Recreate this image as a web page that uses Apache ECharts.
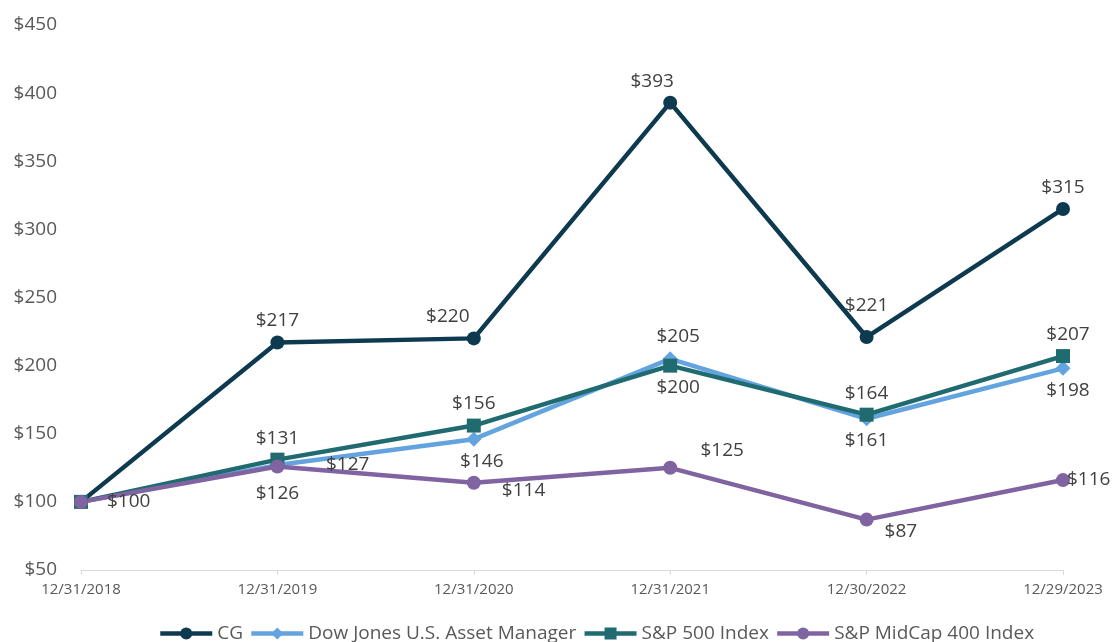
<!DOCTYPE html>
<html>
<head>
<meta charset="utf-8">
<script src="https://cdn.jsdelivr.net/npm/echarts@6/dist/echarts.min.js"></script>
<style>
  html, body { margin: 0; padding: 0; background: #fff; }
  #main { width: 1112px; height: 642px; }
</style>
</head>
<body>
<div id="main"></div>
<script>
// 数据
const categories = ['12/31/2018', '12/31/2019', '12/31/2020', '12/31/2021', '12/30/2022', '12/29/2023'];
const seriesNames = ['CG', 'Dow Jones U.S. Asset Manager', 'S&P 500 Index', 'S&P MidCap 400 Index'];
const cgValues = [100, 217, 220, 393, 221, 315];
const dowValues = [100, 127, 146, 205, 161, 198];
const spValues = [100, 131, 156, 200, 164, 207];
const midValues = [100, 126, 114, 125, 87, 116];

// 标签位置（null = 不显示）
const cgLabels = [null, ['top', 0, 0], ['top', -26, 0], ['top', -18, 0], ['top', 0, -10], ['top', 0, 0]];
const dowLabels = [null, ['right', 36, 0], ['bottom', 8, 0], ['top', 8, 0], ['bottom', 0, 0], ['bottom', 5, 0]];
const spLabels = [null, ['top', 0, 0], ['top', 0, 0], ['bottom', 8, 0], ['top', 0, 0], ['top', 5, 0]];
const midLabels = [['right', 14, 0], ['bottom', 0, 6], ['right', 16, 8], ['top', 52, 4], ['right', 6, 12], ['right', -8, 0]];

var myChart = echarts.init(document.getElementById('main'));

function buildData(values, labels) {
  return values.map((v, i) => {
    const l = labels[i];
    if (!l) return { value: v, label: { show: false } };
    return { value: v, label: { show: true, position: l[0], offset: [l[1], l[2]] } };
  });
}

function makeSeries(name, values, labels, color, symbol) {
  return {
    name: name,
    type: 'line',
    data: buildData(values, labels),
    symbol: symbol,
    symbolSize: symbol === 'diamond' ? 15 : 14,
    lineStyle: { width: 4.5, color: color },
    itemStyle: { color: color },
    label: {
      formatter: p => '$' + p.value,
      color: '#404040',
      fontSize: 19,
      fontFamily: 'Open Sans'
    },
    emphasis: { disabled: true }
  };
}

myChart.setOption({
  animation: false,
  grid: { left: 81, right: 49, top: 25, bottom: 72 },
  legend: {
    data: seriesNames,
    left: 153,
    top: 619,
    itemWidth: 52,
    itemHeight: 15,
    itemGap: 6,
    lineStyle: { width: 4.5 },
    textStyle: { color: '#595959', fontSize: 19, fontFamily: 'Open Sans' }
  },
  xAxis: {
    type: 'category',
    data: categories,
    boundaryGap: false,
    axisLine: { lineStyle: { color: '#d9d9d9', width: 1 } },
    axisTick: { show: true, lineStyle: { color: '#d9d9d9' }, length: 5 },
    axisLabel: { color: '#595959', fontSize: 15, fontFamily: 'Open Sans', margin: 12 }
  },
  yAxis: {
    type: 'value',
    min: 50,
    max: 450,
    interval: 50,
    splitLine: { show: false },
    axisLine: { show: false },
    axisTick: { show: false },
    axisLabel: {
      formatter: v => '$' + v,
      color: '#595959',
      fontSize: 19,
      fontFamily: 'Open Sans',
      margin: 24
    }
  },
  series: [
    makeSeries(seriesNames[0], cgValues, cgLabels, '#0e3a4f', 'circle'),
    makeSeries(seriesNames[1], dowValues, dowLabels, '#62a3e0', 'diamond'),
    makeSeries(seriesNames[2], spValues, spLabels, '#1f6b70', 'rect'),
    makeSeries(seriesNames[3], midValues, midLabels, '#8064a2', 'circle')
  ]
});
</script>
</body>
</html>
